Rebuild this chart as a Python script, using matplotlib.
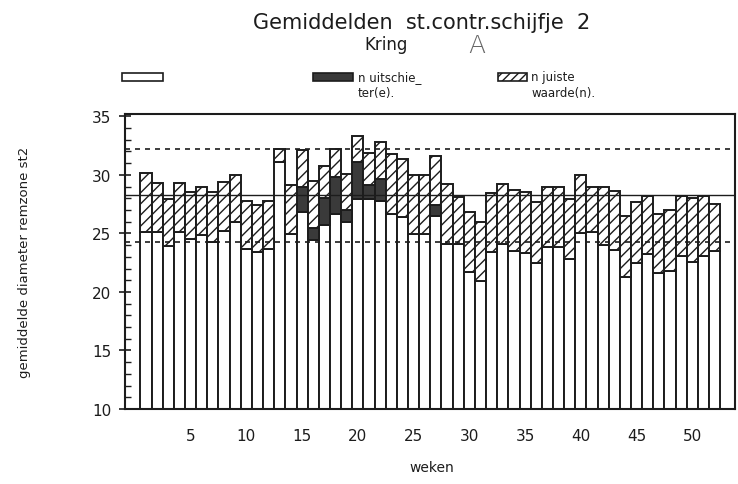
import matplotlib
matplotlib.use('Agg')
import matplotlib.pyplot as plt
import matplotlib.ticker as ticker
from matplotlib.patches import Rectangle
import numpy as np

# ── Data (52 weeks) ──
weken = np.arange(1, 53)

# top of the open (white) part of each bar
basis = [25.15, 25.15, 23.95, 25.15, 24.5, 24.85, 24.3, 25.2, 26.0, 23.7,
         23.4, 23.7, 31.1, 24.95, 26.8, 24.4, 25.7, 26.7, 26.0, 27.95,
         27.95, 27.8, 26.7, 26.4, 24.95, 24.95, 26.5, 24.1, 24.1, 21.7,
         20.9, 23.4, 24.1, 23.5, 23.3, 22.5, 23.8, 23.8, 22.85, 25.0,
         25.1, 24.0, 23.6, 21.25, 22.5, 23.25, 21.65, 21.75, 23.1, 22.6,
         23.1, 23.5]

# dark segment: n uitschieter(s)
uitschieters = [0, 0, 0, 0, 0, 0, 0, 0, 0, 0,
                0, 0, 0, 0, 2.15, 1.1, 2.3, 3.1, 1.0, 3.15,
                1.15, 1.85, 0, 0, 0, 0, 0.9, 0, 0, 0,
                0, 0, 0, 0, 0, 0, 0, 0, 0, 0,
                0, 0, 0, 0, 0, 0, 0, 0, 0, 0,
                0, 0]

# hatched segment: n juiste waarde(n)
juist = [5.05, 4.15, 4.0, 4.15, 4.0, 4.15, 4.2, 4.2, 4.0, 4.1,
         4.05, 4.1, 1.1, 4.2, 3.15, 4.0, 2.8, 2.4, 3.1, 2.2,
         2.8, 3.2, 5.1, 5.0, 5.0, 5.0, 4.25, 5.1, 4.0, 5.1,
         5.05, 5.05, 5.1, 5.25, 5.2, 5.15, 5.2, 5.15, 5.1, 5.0,
         3.9, 5.0, 5.05, 5.2, 5.15, 4.95, 5.05, 5.25, 5.1, 5.4,
         5.1, 4.0]

gemiddelde = 28.25
bovengrens = 32.25
ondergrens = 24.25

x_ticks = [5, 10, 15, 20, 25, 30, 35, 40, 45, 50]
y_ticks = [10, 15, 20, 25, 30, 35]

ink = '#1c1c1c'
plt.rcParams['hatch.linewidth'] = 1.0

fig = plt.figure(figsize=(7.38, 4.85), dpi=100)
fig.patch.set_facecolor('white')
ax = fig.add_axes([0.1694, 0.1546, 0.8266, 0.6082])

basis_arr = np.array(basis)
uit_arr = np.array(uitschieters)
juist_arr = np.array(juist)

ax.bar(weken, basis_arr, width=1.0, color='white', edgecolor=ink, linewidth=1.4, zorder=2)
ax.bar(weken, uit_arr, bottom=basis_arr, width=1.0, color='#3a3a3a', edgecolor=ink,
       linewidth=1.4, zorder=2)
ax.bar(weken, juist_arr, bottom=basis_arr + uit_arr, width=1.0, color='white', edgecolor=ink,
       hatch='///', linewidth=1.4, zorder=2)

# ── Control lines ──
ax.axhline(gemiddelde, color=ink, linewidth=1.0, zorder=3)
ax.axhline(bovengrens, color=ink, linewidth=1.2, dashes=(3, 3), zorder=3)
ax.axhline(ondergrens, color=ink, linewidth=1.2, dashes=(3, 3), zorder=3)

# ── Axes ──
ax.set_xlim(-0.88, 53.83)
ax.set_ylim(10, 35.2)
ax.set_xticks(x_ticks)
ax.set_yticks(y_ticks)
ax.yaxis.set_minor_locator(ticker.MultipleLocator(1))
ax.tick_params(axis='x', length=0, pad=14, labelsize=11, colors=ink)
ax.tick_params(axis='y', which='major', direction='inout', length=8, width=1.2,
               labelsize=11, pad=6, colors=ink)
ax.tick_params(axis='y', which='minor', direction='in', length=4, width=1.0, colors=ink)
for side in ax.spines.values():
    side.set_linewidth(1.5)
    side.set_color(ink)

# ── Texts ──
def px(x, y):
    return x / 738, 1 - y / 485

fig.text(*px(422, 23), 'Gemiddelden  st.contr.schijfje  2', ha='center', va='center',
         fontsize=15, color=ink)
fig.text(*px(386, 45), 'Kring', ha='center', va='center', fontsize=12, color=ink)
fig.text(*px(477, 46), 'A', ha='center', va='center', fontsize=18, color='#666666',
         fontweight='light')
fig.text(*px(25, 262), 'gemiddelde diameter remzone st2', rotation=90, ha='center',
         va='center', fontsize=9.5, color=ink)
fig.text(*px(432, 468), 'weken', ha='center', va='center', fontsize=10, color=ink)

# ── Legend boxes ──
legend_items = [
    (122, 41, 'white', None),
    (313, 40, '#3a3a3a', None),
    (498, 29, 'white', '////'),
]
for x0, w, fc, hatch in legend_items:
    x, y = px(x0, 82)
    fig.add_artist(Rectangle((x, y), w / 738, 8 / 485, transform=fig.transFigure,
                             facecolor=fc, edgecolor=ink, linewidth=1.2, hatch=hatch))

fig.text(*px(358, 78), 'n uitschie_', ha='left', va='center', fontsize=8.5, color=ink)
fig.text(*px(358, 93), 'ter(e).', ha='left', va='center', fontsize=8.5, color=ink)
fig.text(*px(531, 78), 'n juiste', ha='left', va='center', fontsize=8.5, color=ink)
fig.text(*px(531, 93), 'waarde(n).', ha='left', va='center', fontsize=8.5, color=ink)

plt.savefig('out.png', dpi=100, facecolor='white')
plt.close()
